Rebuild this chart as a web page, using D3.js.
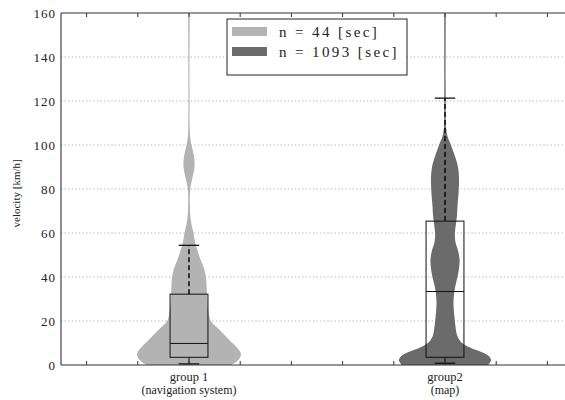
<!DOCTYPE html>
<html>
<head>
<meta charset="utf-8">
<script src="https://cdn.jsdelivr.net/npm/d3@7"></script>
<style>
  body { margin: 0; background: #fff; }
  svg { display: block; }
</style>
</head>
<body>
<svg width="565" height="400"></svg>
<script>
// groups and labels
const groupNames = ["group 1", "group2"];
const groupSubs = ["(navigation system)", "(map)"];
const groupPos = [1, 2];
const legendLabels = ["n = 44 [sec]", "n = 1093 [sec]"];
const fills = ["#b3b3b3", "#6b6b6b"];

const yTicks = [0, 20, 40, 60, 80, 100, 120, 140, 160];
const xTicks = [0.6, 0.8, 1.0, 1.2, 1.4, 1.6, 1.8, 2.0, 2.2, 2.4];

// violin outline, velocity grid + relative density
const vel1 = [0, 2, 5, 8, 11, 14, 17, 20, 24, 28, 32, 36, 40, 44, 48, 52, 56, 60, 64, 68, 72, 78, 81, 85, 89, 92, 95, 99, 103, 107, 160];
const dens1 = [0.81, 0.94, 1.0, 0.92, 0.79, 0.67, 0.54, 0.42, 0.375, 0.356, 0.346, 0.337, 0.327, 0.288, 0.221, 0.163, 0.115, 0.087, 0.048, 0.025, 0.017, 0.017, 0.03, 0.065, 0.1, 0.108, 0.095, 0.058, 0.025, 0.015, 0.015];
const vel2 = [0, 2, 4, 6, 8, 10, 13, 16, 20, 24, 28, 32, 36, 40, 44, 48, 52, 56, 60, 64, 68, 72, 78, 84, 90, 95, 100, 104, 108, 112, 160];
const dens2 = [0.83, 0.885, 0.846, 0.69, 0.48, 0.33, 0.24, 0.21, 0.19, 0.173, 0.163, 0.173, 0.2, 0.24, 0.27, 0.28, 0.25, 0.2, 0.19, 0.21, 0.23, 0.24, 0.26, 0.27, 0.25, 0.19, 0.115, 0.048, 0.019, 0.015, 0.015];

// box plot stats
const whiskLow = [0.5, 0.8];
const q1 = [3.5, 3.5];
const median = [9.8, 33.4];
const q3 = [32.2, 65.4];
const whiskHigh = [54.4, 121.3];

const serif = "'Liberation Serif', 'Times New Roman', Times, 'DejaVu Serif', serif";
const svg = d3.select("svg").attr("font-family", serif);
const mLeft = 61, mTop = 13, mBottom = 365, mRight = 573;

const x = d3.scaleLinear().domain([0.5, 2.5]).range([mLeft, mRight]);
const y = d3.scaleLinear().domain([0, 160]).range([mBottom, mTop]);
const w = d3.scaleLinear().domain([0, 1]).range([0, 52]);

svg.append("clipPath").attr("id", "clip")
  .append("rect").attr("x", mLeft).attr("y", mTop).attr("width", mRight - mLeft).attr("height", mBottom - mTop);

// dotted grid
svg.append("g").selectAll("line")
  .data(yTicks.slice(1, -1))
  .join("line")
  .attr("x1", mLeft).attr("x2", mRight)
  .attr("y1", d => y(d)).attr("y2", d => y(d))
  .attr("stroke", "#9a9a9a")
  .attr("stroke-width", 0.8)
  .attr("stroke-dasharray", "1.2,2.4");

// violins
const violins = [[vel1, dens1], [vel2, dens2]];
const area = d3.area()
  .curve(d3.curveCatmullRom)
  .y(d => y(d[0]));

const plot = svg.append("g").attr("clip-path", "url(#clip)");
violins.forEach(function (v, i) {
  const pts = v[0].map((val, k) => [val, v[1][k]]);
  const cx = x(groupPos[i]);
  plot.append("path")
    .datum(pts)
    .attr("d", area.x0(d => cx - w(d[1])).x1(d => cx + w(d[1])))
    .attr("fill", fills[i]);
});

// box plots
const boxHalf = 0.074, capHalf = 0.04;
groupPos.forEach(function (g, i) {
  const b = plot.append("g").attr("stroke", "#111").attr("fill", "none").attr("stroke-width", 1);
  b.append("rect")
    .attr("x", x(g - boxHalf)).attr("width", x(g + boxHalf) - x(g - boxHalf))
    .attr("y", y(q3[i])).attr("height", y(q1[i]) - y(q3[i]));
  b.append("line")
    .attr("x1", x(g - boxHalf)).attr("x2", x(g + boxHalf))
    .attr("y1", y(median[i])).attr("y2", y(median[i]));
  b.append("line")
    .attr("x1", x(g)).attr("x2", x(g))
    .attr("y1", y(q3[i])).attr("y2", y(whiskHigh[i]))
    .attr("stroke-width", 1.6)
    .attr("stroke-dasharray", "5,3");
  b.append("line")
    .attr("x1", x(g)).attr("x2", x(g))
    .attr("y1", y(q1[i])).attr("y2", y(whiskLow[i]));
  [whiskLow[i], whiskHigh[i]].forEach(function (c) {
    b.append("line")
      .attr("x1", x(g - capHalf)).attr("x2", x(g + capHalf))
      .attr("y1", y(c)).attr("y2", y(c))
      .attr("stroke-width", 1.3);
  });
});

// frame: left, bottom, top
const frame = svg.append("g").attr("stroke", "#333").attr("stroke-width", 1.1);
frame.append("line").attr("x1", mLeft).attr("x2", mLeft).attr("y1", mTop).attr("y2", mBottom);
frame.append("line").attr("x1", mLeft).attr("x2", mRight).attr("y1", mBottom).attr("y2", mBottom);
frame.append("line").attr("x1", mLeft).attr("x2", mRight).attr("y1", mTop).attr("y2", mTop);

// inward x ticks on top and bottom
svg.append("g").selectAll("line")
  .data(xTicks)
  .join("line")
  .attr("x1", d => x(d)).attr("x2", d => x(d))
  .attr("y1", mBottom).attr("y2", mBottom - 4)
  .attr("stroke", "#333");
svg.append("g").selectAll("line")
  .data(xTicks)
  .join("line")
  .attr("x1", d => x(d)).attr("x2", d => x(d))
  .attr("y1", mTop).attr("y2", mTop + 4)
  .attr("stroke", "#333");

// y tick labels
svg.append("g").selectAll("text")
  .data(yTicks)
  .join("text")
  .attr("x", 56)
  .attr("y", d => y(d) + 4.5)
  .attr("text-anchor", "end")
  .attr("font-size", 13)
  .attr("letter-spacing", "1px")
  .attr("fill", "#222")
  .text(d => d);

// y axis title
svg.append("text")
  .attr("transform", "translate(20," + y(78) + ") rotate(-90)")
  .attr("text-anchor", "middle")
  .attr("font-size", 11)
  .attr("fill", "#222")
  .text("velocity [km/h]");

// group labels
groupPos.forEach(function (g, i) {
  svg.append("text").attr("x", x(g)).attr("y", 381)
    .attr("text-anchor", "middle").attr("font-size", 12.5).attr("fill", "#222").text(groupNames[i]);
  svg.append("text").attr("x", x(g)).attr("y", 394)
    .attr("text-anchor", "middle").attr("font-size", 12).attr("fill", "#222").text(groupSubs[i]);
});

// legend
const lg = svg.append("g");
lg.append("rect")
  .attr("x", 227).attr("y", 19).attr("width", 180).attr("height", 56)
  .attr("fill", "#fff").attr("stroke", "#222").attr("stroke-width", 1);
legendLabels.forEach(function (lab, i) {
  lg.append("rect")
    .attr("x", 232).attr("y", 27 + i * 20).attr("width", 35).attr("height", 9)
    .attr("fill", fills[i]);
  lg.append("text")
    .attr("x", 279).attr("y", 37 + i * 20)
    .attr("font-size", 15)
    .attr("letter-spacing", "2.4px")
    .attr("fill", "#222")
    .text(lab);
});
</script>
</body>
</html>
